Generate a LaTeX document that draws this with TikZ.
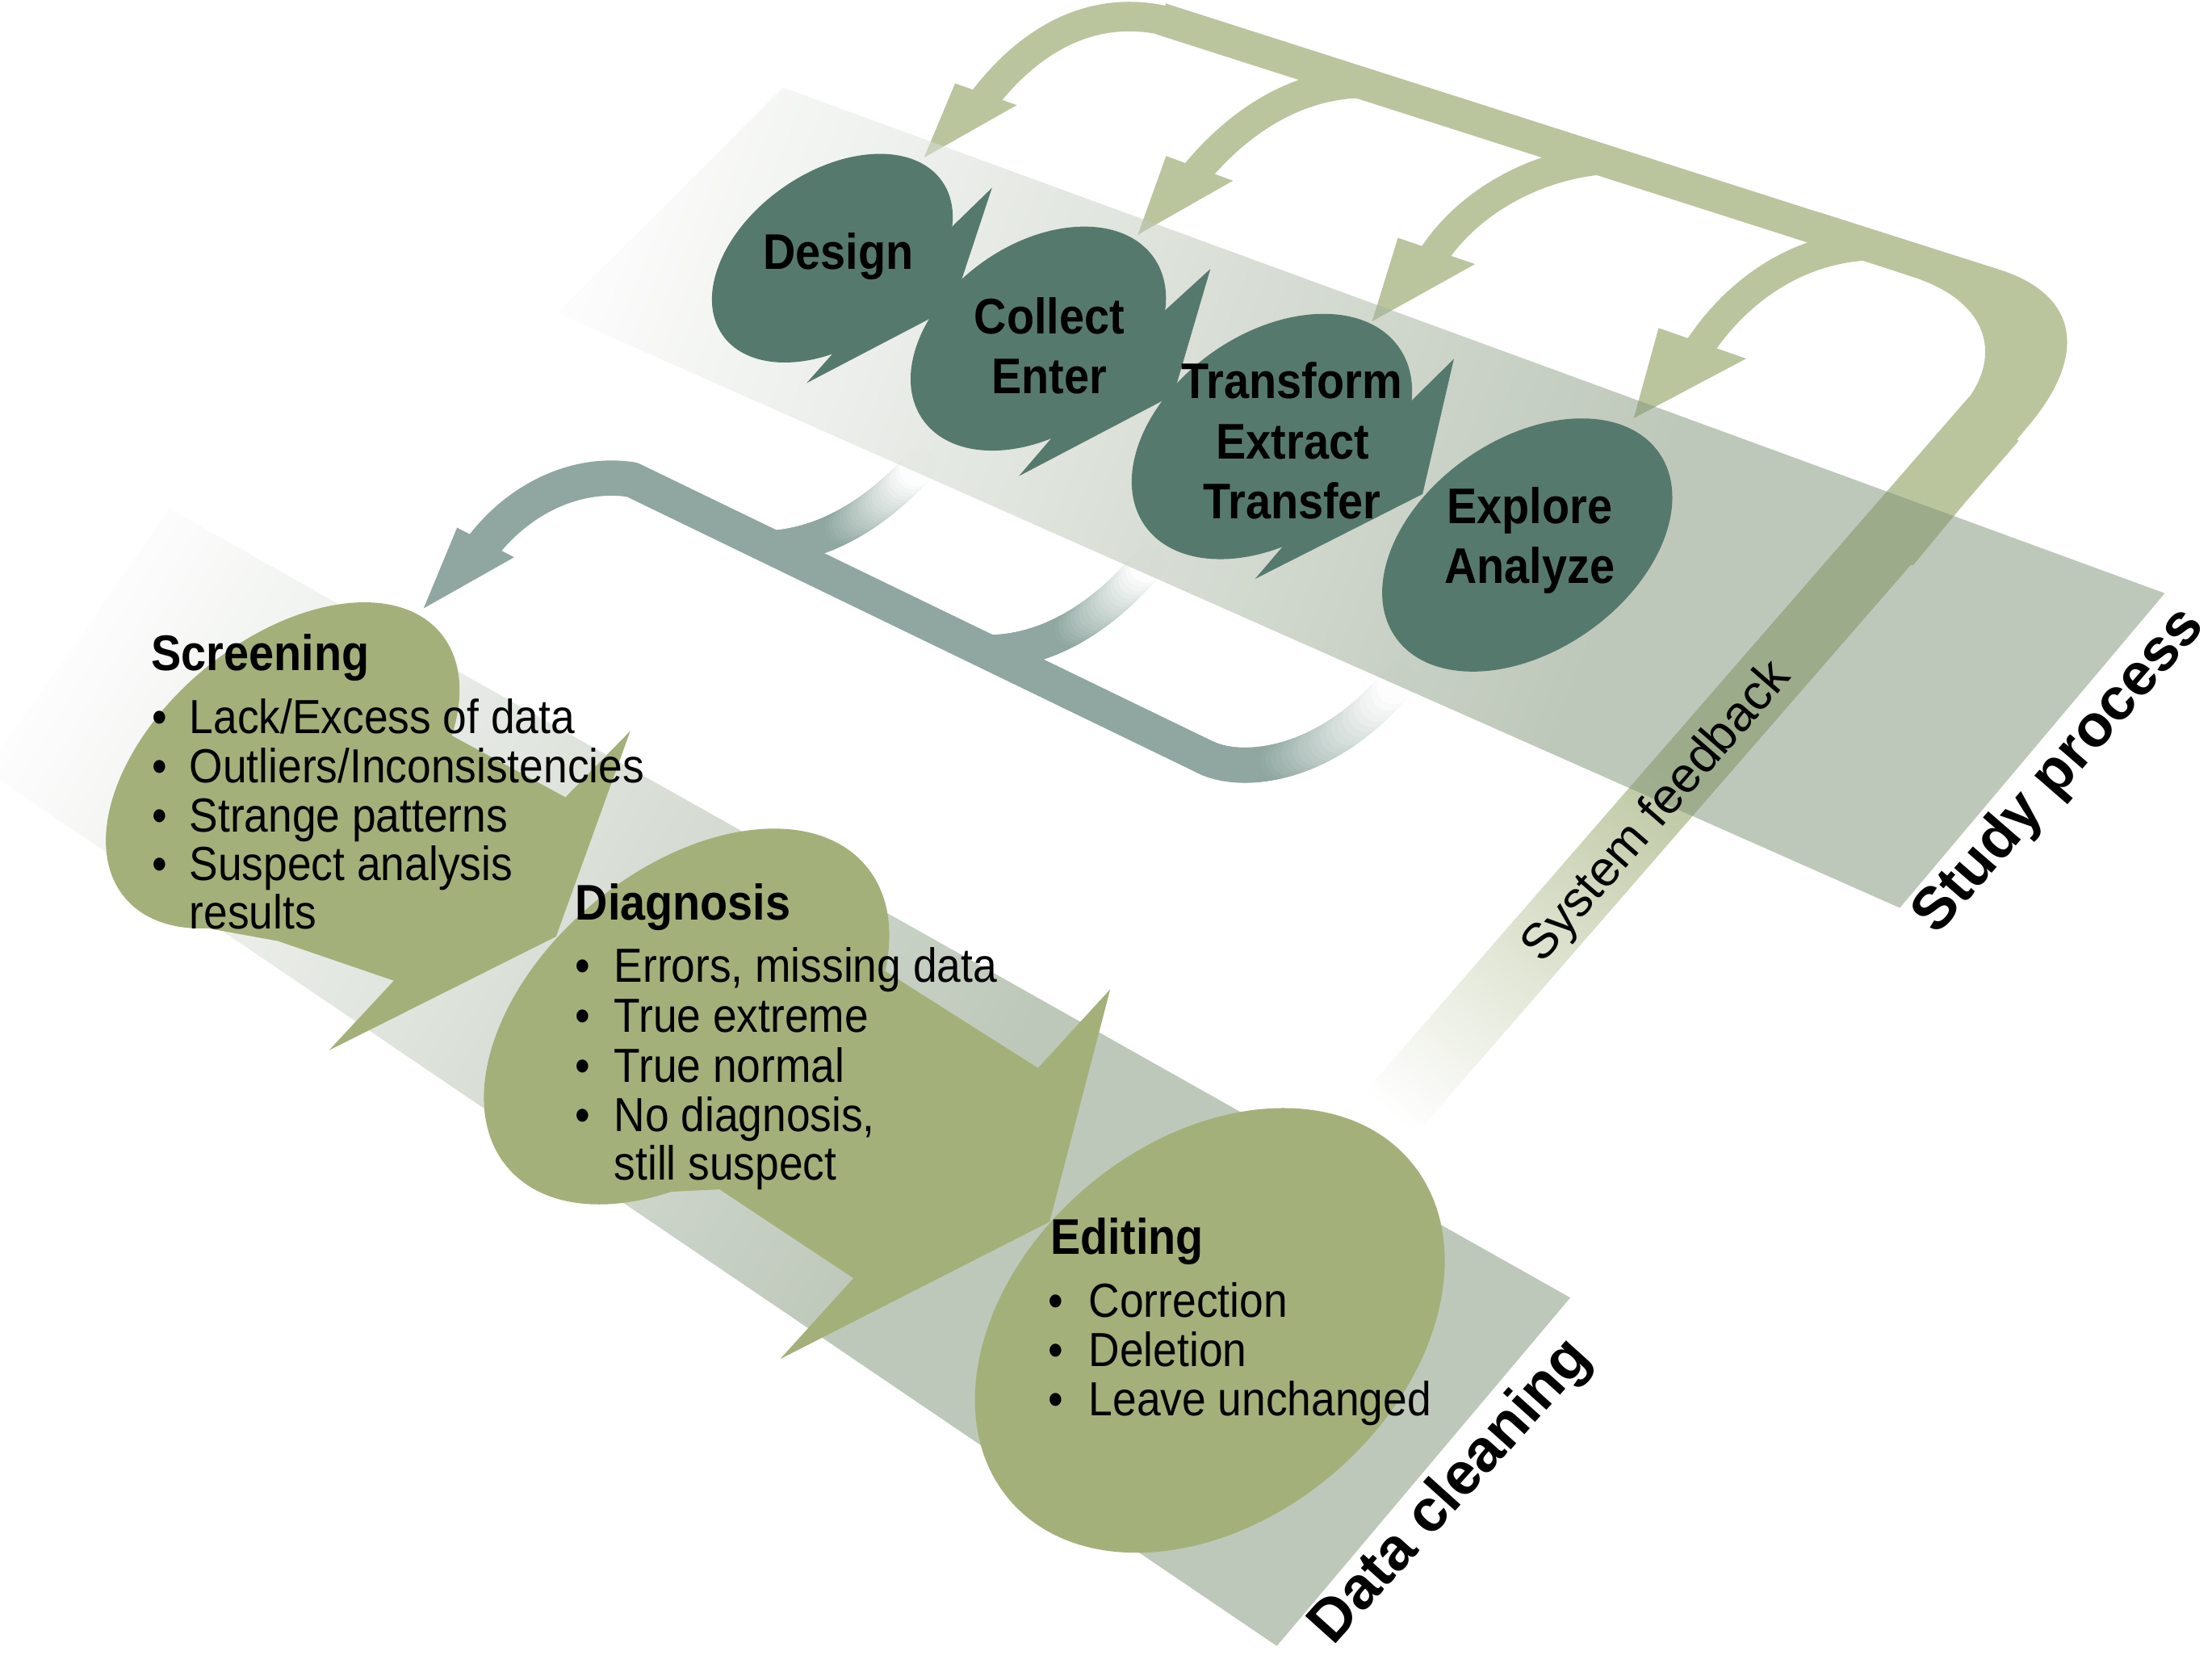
\documentclass[tikz,border=0pt]{standalone}
\usepackage{fontspec}
\setmainfont{Liberation Sans}[FakeStretch=0.9]
\newfontfamily\lblfont{Liberation Sans}
\definecolor{sbub}{RGB}{86,121,110}
\definecolor{dbub}{RGB}{164,176,122}
\definecolor{tealc}{RGB}{143,167,160}
\definecolor{fbc}{RGB}{186,197,158}
\definecolor{bandc}{RGB}{127,147,119}
\def\stemw{13.6pt}
\newcommand\gradcurve[9]{%
  \foreach \k in {0,...,39}{%
    \pgfmathsetmacro\ta{\k/40}%
    \pgfmathsetmacro\tb{(\k+1)/40}%
    \pgfmathsetmacro\ua{1-\ta}%
    \pgfmathsetmacro\ub{1-\tb}%
    \pgfmathsetmacro\xa{\ua*\ua*\ua*#1+3*\ua*\ua*\ta*#3+3*\ua*\ta*\ta*#5+\ta*\ta*\ta*#7}%
    \pgfmathsetmacro\ya{\ua*\ua*\ua*#2+3*\ua*\ua*\ta*#4+3*\ua*\ta*\ta*#6+\ta*\ta*\ta*#8}%
    \pgfmathsetmacro\xb{\ub*\ub*\ub*#1+3*\ub*\ub*\tb*#3+3*\ub*\tb*\tb*#5+\tb*\tb*\tb*#7}%
    \pgfmathsetmacro\yb{\ub*\ub*\ub*#2+3*\ub*\ub*\tb*#4+3*\ub*\tb*\tb*#6+\tb*\tb*\tb*#8}%
    \pgfmathtruncatemacro\mx{min(100,100*(1-(\ta+\tb)/2)/(1-#9))}%
    \draw[line width=\stemw, line cap=round, draw=tealc!\mx!white] (\xa,\ya) -- (\xb,\yb);
  }%
}
\begin{document}
\begin{tikzpicture}[x=0.02cm,y=-0.02cm,
  blabel/.style={font=\bfseries\fontsize{20.2}{24}\selectfont, anchor=base, inner sep=0pt},
  dhead/.style={font=\bfseries\fontsize{20.2}{24}\selectfont, anchor=base west, inner sep=0pt},
  ditem/.style={font=\fontsize{19.3}{22}\selectfont, anchor=base west, inner sep=0pt},
  fbpipe/.style={draw=fbc, line width=13pt},
  fbbranch/.style={draw=fbc, line width=11.9pt},
  tealpipe/.style={draw=tealc, line width=14.2pt, line join=round},
  bandshade/.style={fill opacity=0.5, left color=white, right color=bandc, middle color=bandc},
  biglabel/.style={font=\lblfont\bfseries\fontsize{24}{28}\selectfont, inner sep=0pt},
]
\useasboundingbox (0,0) rectangle (1568,1182);
\fill[white] (0,0) rectangle (1568,1182);

% ---------- system feedback (olive) ----------
\draw[fbpipe] (1310,169.1) -- (823,13.4);
\draw[fbbranch] (835,17.2) .. controls (790,3) and (740,15) .. (697,71);
\draw[fbbranch] (965,59) .. controls (915,60) and (875,90) .. (848,122.5);
\draw[fbbranch] (1135,113.3) .. controls (1085,118) and (1040,145) .. (1016.5,180.5);
\draw[fbbranch] (1325,174.1) .. controls (1275,176) and (1232,205) .. (1204.5,246.5);
\fill[fbc] (677,59.1) -- (655,111.7) -- (720.8,74.5) -- cycle;
\fill[fbc] (826.6,110.6) -- (806.5,166.4) -- (874,128.1) -- cycle;
\fill[fbc] (990.9,168.6) -- (972.6,227.8) -- (1045.6,187.2) -- cycle;
\fill[fbc] (1175.7,232.5) -- (1158.1,296.4) -- (1237.8,254.2) -- cycle;
\fill[fbc] (1290,150.6) -- (1417,191) .. controls (1475,209.4) and (1480,253.4) .. (1436,304)
  -- (1356.2,400.6) -- (1294.5,400.6) -- (1390.3,288.7)
  .. controls (1420,254.7) and (1412,214) .. (1355,196)
  -- (1290,174.8) -- cycle;
\begin{scope}[transform canvas={rotate around={-41:(1199,543.5)}}]
  \shade[top color=fbc, bottom color=white, middle color=fbc] (1175.5,217) rectangle (1222.5,870);
\end{scope}

% ---------- data cleaning loop (teal) ----------
\draw[tealpipe] (340,390) .. controls (368,352) and (410,334) .. (448,340) -- (855,537);
\def\stemw{14.2pt}
\gradcurve{855}{537}{880}{549}{940}{545}{992}{482}{0.45}
\def\stemw{13.6pt}
\gradcurve{548}{388}{585}{385}{620}{365}{652}{330}{0.45}
\gradcurve{700}{462}{740}{462}{780}{440}{815}{398}{0.5}
\fill[tealc] (324,374) -- (300.3,431.2) -- (364.4,395) -- cycle;

% ---------- bands ----------
\begin{scope}
  \clip (555,62) -- (1534.5,420.5) -- (1346.7,643.5) -- (395,222) -- cycle;
  \begin{scope}[transform canvas={rotate around={-22:(950,334)}}]
    \shade[bandshade] (370,184) rectangle (1950,484);
  \end{scope}
\end{scope}
\begin{scope}
  \clip (120,360.6) -- (1113.1,919.8) -- (905.1,1166.7) -- (-10,546.2) -- cycle;
  \begin{scope}[transform canvas={rotate around={-31.7:(532,748.4)}}]
    \shade[bandshade] (-50,578) rectangle (1420,918);
  \end{scope}
\end{scope}

% ---------- study bubbles ----------
\fill[sbub, rotate around={35:(590,183)}] (590,183) ellipse [x radius=95, y radius=61];
\fill[sbub] (671,164.4) -- (703.2,133.1) -- (675.3,217.4) -- (571.8,271.5) -- (599.3,240.4) -- cycle;
\fill[sbub, rotate around={35:(736,240)}] (736,240) ellipse [x radius=100, y radius=67];
\fill[sbub] (822,223.5) -- (858,190.6) -- (831.8,280) -- (722.2,337.5) -- (750.7,304.3) -- cycle;
\fill[sbub, rotate around={35:(901.6,309.4)}] (901.6,309.4) ellipse [x radius=110, y radius=73];
\fill[sbub] (996,288.5) -- (1030.6,254.4) -- (1008.4,350.2) -- (889.7,410.3) -- (919.1,375.8) -- cycle;
\fill[sbub, rotate around={35:(1082.6,386.3)}] (1082.6,386.3) ellipse [x radius=114, y radius=75];

% ---------- data cleaning bubbles ----------
\fill[dbub, rotate around={40:(200.4,542.5)}] (200.4,542.5) ellipse [x radius=146, y radius=88];
\fill[dbub] (314,518) -- (400.8,565.1) -- (446.8,518.1) -- (394.2,663.8) -- (233.2,744.5) -- (279.2,695.1) -- (197,667) -- (142,657) -- cycle;
\fill[dbub, rotate around={40:(486.7,720.5)}] (486.7,720.5) ellipse [x radius=166, y radius=104];
\fill[dbub] (627,688) -- (735.8,757) -- (787,701.2) -- (744,866) -- (553,963.3) -- (605,906) -- (510,843) -- (470,845) -- cycle;
\fill[dbub, rotate around={40:(857.6,943)}] (857.6,943) ellipse [x radius=186, y radius=134];

% ---------- study process texts ----------
\node[blabel] (tDesign) at (594.3,191) {Design};
\node[blabel] (tCollect) at (743.8,236.5) {Collect};
\node[blabel] (tEnter) at (743.8,279.2) {Enter};
\node[blabel] (tTransform) at (915.8,282.5) {Transform};
\node[blabel] (tExtract) at (916.3,325.5) {Extract};
\node[blabel] (tTransfer) at (915.9,367.6) {Transfer};
\node[blabel] (tExplore) at (1084.3,371.2) {Explore};
\node[blabel] (tAnalyze) at (1084.3,413.3) {Analyze};

% ---------- screening ----------
\node[dhead] (hScreen) at (107,475.4) {Screening};
\node[ditem] (bS1) at (107.5,520) {•};
\node[ditem] (iS1) at (134,520) {Lack/Excess of data};
\node[ditem] (bS2) at (107.5,555) {•};
\node[ditem] (iS2) at (134,555) {Outliers/Inconsistencies};
\node[ditem] (bS3) at (107.5,589.6) {•};
\node[ditem] (iS3) at (134,589.6) {Strange patterns};
\node[ditem] (bS4) at (107.5,624.1) {•};
\node[ditem] (iS4) at (134,624.1) {Suspect analysis};
\node[ditem] (iS5) at (134,658.5) {results};

% ---------- diagnosis ----------
\node[dhead] (hDiag) at (407.5,651.9) {Diagnosis};
\node[ditem] (bD1) at (407.6,696.3) {•};
\node[ditem] (iD1) at (435,696.3) {Errors, missing data};
\node[ditem] (bD2) at (407.6,731.7) {•};
\node[ditem] (iD2) at (435,731.7) {True extreme};
\node[ditem] (bD3) at (407.6,766.9) {•};
\node[ditem] (iD3) at (435,766.9) {True normal};
\node[ditem] (bD4) at (407.6,802) {•};
\node[ditem] (iD4) at (435,802) {No diagnosis,};
\node[ditem] (iD5) at (435,836.5) {still suspect};

% ---------- editing ----------
\node[dhead] (hEdit) at (744.5,889.1) {Editing};
\node[ditem] (bE1) at (742.7,933.7) {•};
\node[ditem] (iE1) at (771.5,933.7) {Correction};
\node[ditem] (bE2) at (742.7,968.6) {•};
\node[ditem] (iE2) at (771.5,968.6) {Deletion};
\node[ditem] (bE3) at (742.7,1003.5) {•};
\node[ditem] (iE3) at (771.5,1003.5) {Leave unchanged};

% ---------- labels ----------
\node[biglabel, rotate=49] (lStudy) at (1460,547) {Study process};
\node[biglabel, rotate=48] (lData) at (1029,1058) {Data cleaning};
\node[font=\lblfont\fontsize{20}{22}\selectfont, inner sep=0pt, rotate=49] (lSys) at (1175,576) {System feedback};
\end{tikzpicture}
\end{document}
